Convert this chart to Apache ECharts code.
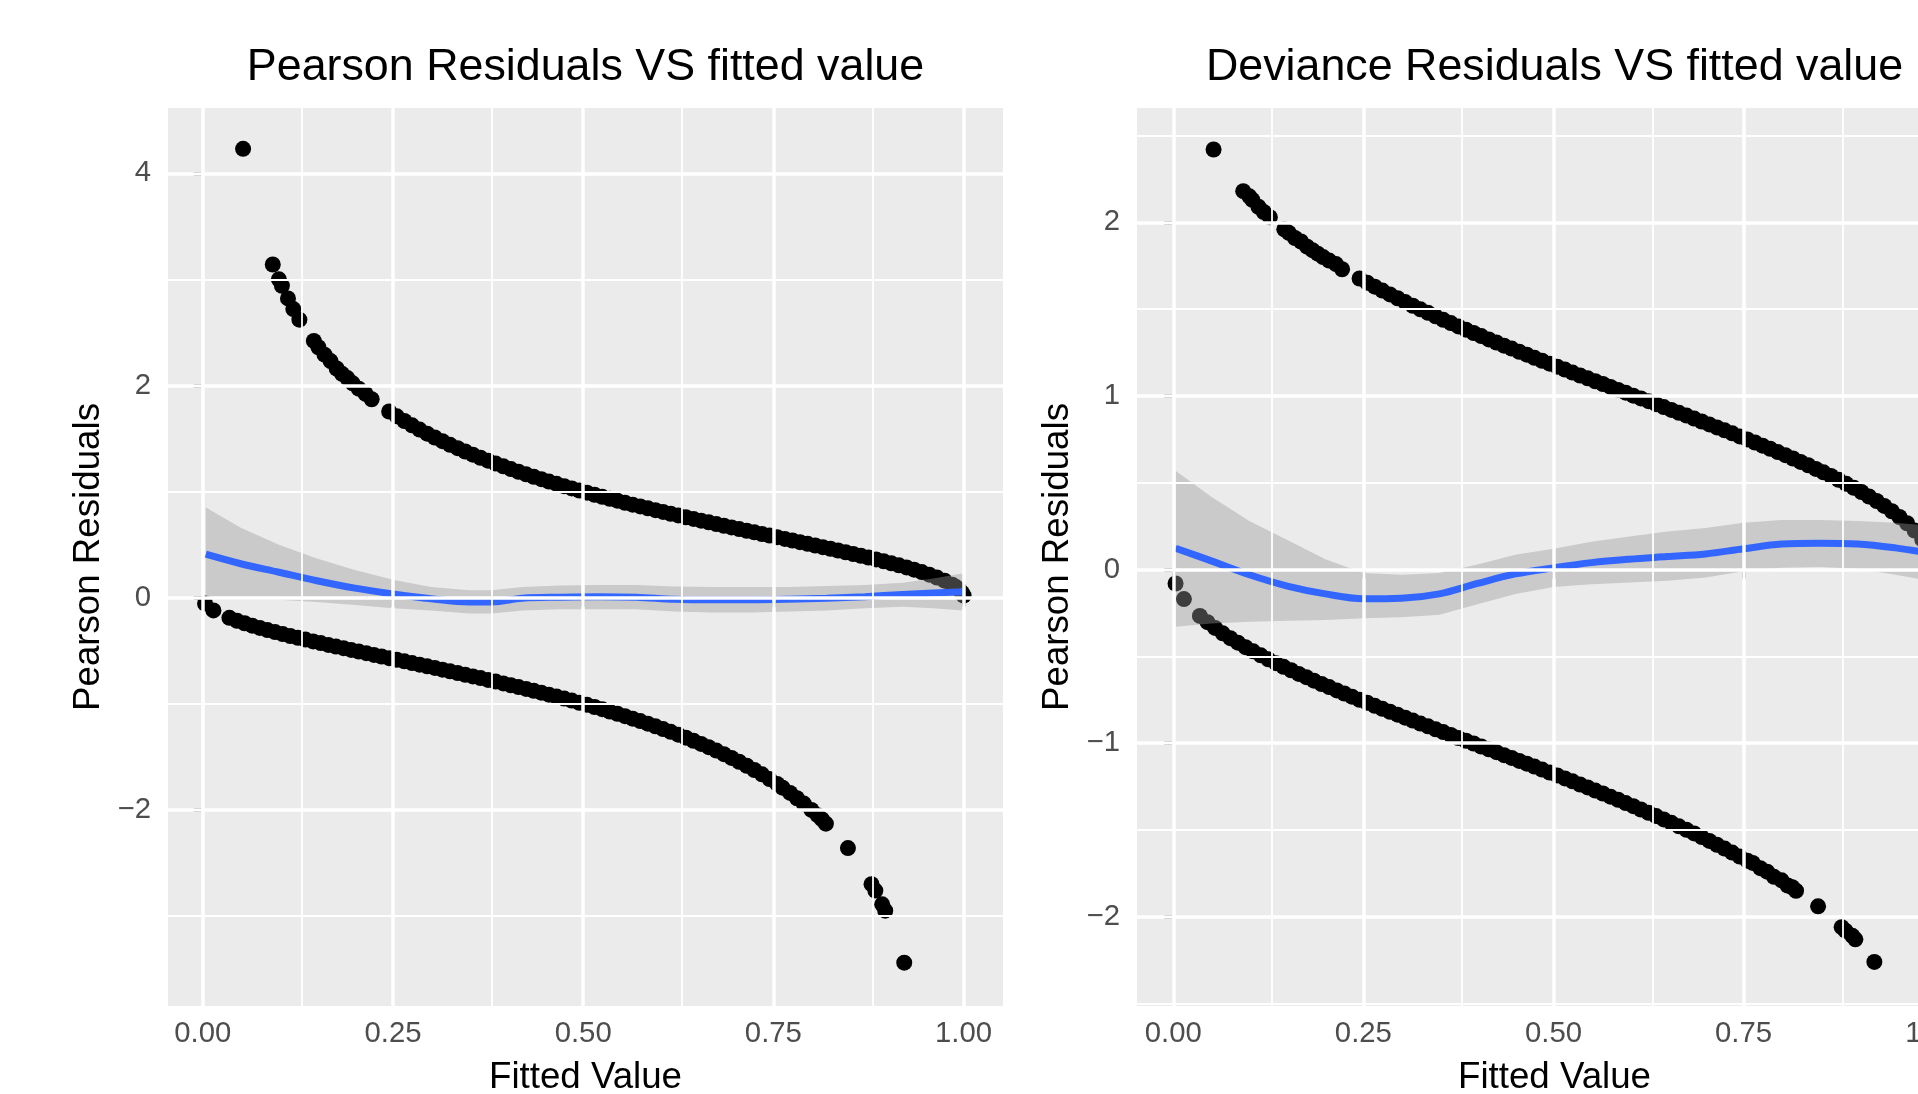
<!DOCTYPE html>
<html><head><meta charset="utf-8">
<script src="https://cdn.jsdelivr.net/npm/echarts@6/dist/echarts.min.js"></script>
<style>html,body{margin:0;padding:0;background:#fff;overflow:hidden}#c{width:1918px;height:1094px}</style>
</head><body><div id="c"></div>
<script>
// Fitted values of observations with response 1 (upper branch) and their residuals
const fitY1 = [0.053,0.092,0.100,0.104,0.112,0.119,0.127,0.146,0.152,0.160,
  0.168,0.176,0.183,0.190,0.197,0.205,0.214,0.222,
  0.245,0.255,0.265,0.275,0.285,0.295,0.305,0.315,0.325,0.335,
  0.345,0.355,0.365,0.375,0.385,0.395,0.405,0.415,0.425,0.435,
  0.445,0.455,0.465,0.475,0.485,0.495,0.505,0.515,0.525,0.535,
  0.545,0.555,0.565,0.575,0.585,0.595,0.605,0.615,0.625,0.635,
  0.645,0.655,0.665,0.675,0.685,0.695,0.705,0.715,0.725,0.735,
  0.745,0.755,0.765,0.775,0.785,0.795,0.805,0.815,0.825,0.835,
  0.845,0.855,0.865,0.875,0.885,0.895,0.905,0.915,0.925,0.935,
  0.945,0.955,0.965,0.975,0.985,0.990,0.995,0.998,1.000];
const pearsonY1 = [4.23,3.14,3.00,2.94,2.82,2.72,2.62,2.42,2.36,2.29,
  2.23,2.16,2.11,2.07,2.02,1.97,1.92,1.87,
  1.755,1.709,1.665,1.624,1.584,1.546,1.510,1.475,1.441,1.409,
  1.378,1.348,1.319,1.291,1.264,1.238,1.212,1.187,1.163,1.140,
  1.117,1.094,1.073,1.051,1.030,1.010,0.990,0.970,0.951,0.932,
  0.914,0.895,0.877,0.860,0.842,0.825,0.808,0.791,0.775,0.758,
  0.742,0.726,0.710,0.694,0.678,0.662,0.647,0.631,0.616,0.600,
  0.585,0.570,0.554,0.539,0.523,0.508,0.492,0.476,0.461,0.445,
  0.428,0.412,0.395,0.378,0.361,0.343,0.324,0.305,0.285,0.264,
  0.241,0.217,0.190,0.160,0.123,0.100,0.071,0.045,0.020];
const devianceY1 = [2.42,2.18,2.15,2.13,2.09,2.06,2.03,1.96,1.94,1.91,
  1.89,1.86,1.84,1.82,1.80,1.78,1.76,1.73,
  1.677,1.653,1.630,1.607,1.585,1.563,1.541,1.520,1.499,1.479,
  1.459,1.439,1.420,1.401,1.382,1.363,1.345,1.326,1.308,1.290,
  1.273,1.255,1.238,1.220,1.203,1.186,1.169,1.152,1.135,1.118,
  1.102,1.085,1.069,1.052,1.035,1.019,1.002,0.986,0.970,0.953,
  0.936,0.920,0.903,0.887,0.870,0.853,0.836,0.819,0.802,0.785,
  0.767,0.750,0.732,0.714,0.696,0.677,0.659,0.640,0.620,0.601,
  0.580,0.560,0.539,0.517,0.494,0.471,0.447,0.421,0.395,0.367,
  0.336,0.303,0.267,0.225,0.174,0.142,0.100,0.063,0.030];

// Fitted values of observations with response 0 (lower branch) and their residuals
const fitY0 = [0.003,0.014,
  0.035,0.045,0.055,0.065,0.075,0.085,0.095,0.105,0.115,0.125,
  0.135,0.145,0.155,0.165,0.175,0.185,0.195,0.205,0.215,0.225,
  0.235,0.245,0.255,0.265,0.275,0.285,0.295,0.305,0.315,0.325,
  0.335,0.345,0.355,0.365,0.375,0.385,0.395,0.405,0.415,0.425,
  0.435,0.445,0.455,0.465,0.475,0.485,0.495,0.505,0.515,0.525,
  0.535,0.545,0.555,0.565,0.575,0.585,0.595,0.605,0.615,0.625,
  0.635,0.645,0.655,0.665,0.675,0.685,0.695,0.705,0.715,0.725,
  0.735,0.745,0.755,
  0.762,0.772,0.781,0.790,0.800,0.808,0.814,0.819,0.848,
  0.879,0.884,0.893,0.897,0.922];
const pearsonY0 = [-0.055,-0.12,
  -0.190,-0.217,-0.241,-0.264,-0.285,-0.305,-0.324,-0.343,-0.361,-0.378,
  -0.395,-0.412,-0.428,-0.445,-0.461,-0.476,-0.492,-0.508,-0.523,-0.539,
  -0.554,-0.570,-0.585,-0.600,-0.616,-0.631,-0.647,-0.662,-0.678,-0.694,
  -0.710,-0.726,-0.742,-0.758,-0.775,-0.791,-0.808,-0.825,-0.842,-0.860,
  -0.877,-0.895,-0.914,-0.932,-0.951,-0.970,-0.990,-1.010,-1.030,-1.051,
  -1.073,-1.094,-1.117,-1.140,-1.163,-1.187,-1.212,-1.238,-1.264,-1.291,
  -1.319,-1.348,-1.378,-1.409,-1.441,-1.475,-1.510,-1.546,-1.584,-1.624,
  -1.665,-1.709,-1.755,
  -1.79,-1.84,-1.89,-1.94,-2.00,-2.05,-2.09,-2.13,-2.36,
  -2.70,-2.76,-2.89,-2.95,-3.44];
const devianceY0 = [-0.08,-0.17,
  -0.267,-0.303,-0.336,-0.367,-0.395,-0.421,-0.447,-0.471,-0.494,-0.517,
  -0.539,-0.560,-0.580,-0.601,-0.620,-0.640,-0.659,-0.677,-0.696,-0.714,
  -0.732,-0.750,-0.767,-0.785,-0.802,-0.819,-0.836,-0.853,-0.870,-0.887,
  -0.903,-0.920,-0.936,-0.953,-0.970,-0.986,-1.002,-1.019,-1.035,-1.052,
  -1.069,-1.085,-1.102,-1.118,-1.135,-1.152,-1.169,-1.186,-1.203,-1.220,
  -1.238,-1.255,-1.273,-1.290,-1.308,-1.326,-1.345,-1.363,-1.382,-1.401,
  -1.420,-1.439,-1.459,-1.479,-1.499,-1.520,-1.541,-1.563,-1.585,-1.607,
  -1.630,-1.653,-1.677,
  -1.69,-1.72,-1.74,-1.77,-1.79,-1.82,-1.83,-1.85,-1.94,
  -2.06,-2.08,-2.11,-2.13,-2.26];

// Loess smooth and its confidence band (Pearson panel)
const smoothPX     = [0.004,0.05,0.10,0.15,0.20,0.25,0.30,0.35,0.38,0.42,0.47,0.52,0.57,0.62,0.67,0.72,0.77,0.82,0.87,0.92,0.96,1.00];
const smoothPFit   = [0.41,0.32,0.24,0.16,0.09,0.035,-0.01,-0.04,-0.04,-0.005,0.005,0.01,0.005,-0.015,-0.02,-0.02,-0.015,-0.005,0.01,0.03,0.045,0.057];
const smoothPUpper = [0.85,0.66,0.50,0.37,0.26,0.17,0.10,0.07,0.07,0.10,0.115,0.12,0.12,0.105,0.10,0.10,0.10,0.11,0.12,0.14,0.18,0.23];
const smoothPLower = [-0.02,-0.02,-0.02,-0.04,-0.07,-0.10,-0.12,-0.15,-0.15,-0.12,-0.11,-0.11,-0.11,-0.13,-0.14,-0.14,-0.13,-0.12,-0.10,-0.085,-0.10,-0.12];

// Loess smooth and its confidence band (Deviance panel)
const smoothDX     = [0.003,0.05,0.10,0.15,0.20,0.25,0.30,0.35,0.40,0.45,0.50,0.55,0.60,0.65,0.70,0.75,0.80,0.85,0.90,0.95,1.00];
const smoothDFit   = [0.123,0.05,-0.03,-0.095,-0.14,-0.168,-0.165,-0.14,-0.08,-0.025,0.01,0.04,0.06,0.075,0.09,0.12,0.147,0.152,0.148,0.125,0.09];
const smoothDUpper = [0.57,0.42,0.28,0.17,0.06,-0.02,-0.03,-0.02,0.03,0.085,0.12,0.16,0.19,0.22,0.24,0.27,0.285,0.285,0.28,0.27,0.25];
const smoothDLower = [-0.33,-0.31,-0.30,-0.295,-0.29,-0.28,-0.275,-0.26,-0.20,-0.14,-0.10,-0.085,-0.075,-0.065,-0.045,-0.01,0.01,0.015,0.005,-0.03,-0.07];

// Breaks and labels
const xTicks = [0, 0.25, 0.5, 0.75, 1];
const xMinor = [0.125, 0.375, 0.625, 0.875];
const pearsonTicks = [-2, 0, 2, 4];
const pearsonMinor = [-3, -1, 1, 3];
const devianceTicks = [-2, -1, 0, 1, 2];
const devianceMinor = [-2.5, -1.5, -0.5, 0.5, 1.5, 2.5];
const titles = ['Pearson Residuals VS fitted value', 'Deviance Residuals VS fitted value'];
const xTitle = 'Fitted Value';
const yTitle = 'Pearson Residuals';

const FONT = "'Liberation Sans', Arial, Helvetica, sans-serif";
const zip = (a, b) => a.map((v, i) => [v, b[i]]);
const fmtY = v => v < 0 ? '\u2212' + Math.abs(v) : String(v);

const panels = [
  {left: 168, xr: [-0.0457, 1.0518], yr: [-3.848, 4.615], yt: pearsonTicks, ym: pearsonMinor,
   up: pearsonY1, lo: pearsonY0, sx: smoothPX, sf: smoothPFit, su: smoothPUpper, sl: smoothPLower},
  {left: 1137, xr: [-0.0477, 1.0504], yr: [-2.514, 2.659], yt: devianceTicks, ym: devianceMinor,
   up: devianceY1, lo: devianceY0, sx: smoothDX, sf: smoothDFit, su: smoothDUpper, sl: smoothDLower}
];

const grid = [], xAxis = [], yAxis = [], series = [], graphic = [];
panels.forEach((p, i) => {
  grid.push({left: p.left, top: 108, width: 835, height: 898, show: true,
    backgroundColor: '#EBEBEB', borderWidth: 0, containLabel: false, outerBoundsMode: 'none'});
  xAxis.push({type: 'value', gridIndex: i, min: p.xr[0], max: p.xr[1],
    axisLine: {show: false},
    axisTick: {show: true, customValues: xTicks, length: 9, lineStyle: {color: '#333333', width: 3.5}},
    axisLabel: {customValues: xTicks, formatter: v => v.toFixed(2), fontSize: 29.3, color: '#4D4D4D', margin: 13.5, fontFamily: FONT},
    splitLine: {show: false},
    name: xTitle, nameLocation: 'middle', nameGap: 53,
    nameTextStyle: {fontSize: 36.7, color: '#000000', fontFamily: FONT}});
  yAxis.push({type: 'value', gridIndex: i, min: p.yr[0], max: p.yr[1],
    axisLine: {show: false},
    axisTick: {show: true, customValues: p.yt, length: 9, lineStyle: {color: '#333333', width: 3.5}},
    axisLabel: {customValues: p.yt, formatter: fmtY, fontSize: 29.3, color: '#4D4D4D', margin: 17, fontFamily: FONT},
    splitLine: {show: false},
    name: yTitle, nameLocation: 'middle', nameGap: 61,
    nameTextStyle: {fontSize: 36.7, color: '#000000', fontFamily: FONT}});

  const gl = [];
  xMinor.forEach(v => gl.push({xAxis: v, lineStyle: {width: 1.8}}));
  p.ym.forEach(v => gl.push({yAxis: v, lineStyle: {width: 1.8}}));
  xTicks.forEach(v => gl.push({xAxis: v, lineStyle: {width: 3.5}}));
  p.yt.forEach(v => gl.push({yAxis: v, lineStyle: {width: 3.5}}));
  series.push({type: 'line', xAxisIndex: i, yAxisIndex: i, z: 1, silent: true,
    data: [[0, 0]], symbol: 'none', lineStyle: {opacity: 0},
    markLine: {silent: true, symbol: ['none', 'none'], animation: false,
      label: {show: false}, lineStyle: {color: '#FFFFFF', type: 'solid'}, data: gl}});

  series.push({type: 'scatter', xAxisIndex: i, yAxisIndex: i, z: 2, symbolSize: 16,
    itemStyle: {color: '#000000', opacity: 1}, data: zip(fitY1, p.up).concat(zip(fitY0, p.lo))});

  const band = p.sx.map((x, k) => [x, p.su[k], p.sl[k]]);
  series.push({type: 'custom', xAxisIndex: i, yAxisIndex: i, z: 3, silent: true, clip: true,
    data: band,
    renderItem: (params, api) => {
      if (params.dataIndex !== 0) return null;
      const pts = [];
      for (let k = 0; k < band.length; k++) pts.push(api.coord([band[k][0], band[k][1]]));
      for (let k = band.length - 1; k >= 0; k--) pts.push(api.coord([band[k][0], band[k][2]]));
      return {type: 'polygon', shape: {points: pts}, style: {fill: 'rgba(153,153,153,0.4)'}};
    }});

  series.push({type: 'line', xAxisIndex: i, yAxisIndex: i, z: 4, silent: true,
    data: zip(p.sx, p.sf), smooth: 0.35, symbol: 'none',
    lineStyle: {color: '#3366FF', width: 7}});

  graphic.push({type: 'text', x: p.left + 417.5, y: 45.5,
    style: {text: titles[i], fill: '#000000', font: '44.8px ' + FONT, align: 'center', verticalAlign: 'top'}});
});

const chart = echarts.init(document.getElementById('c'), null, {renderer: 'canvas', width: 1918, height: 1094});
chart.setOption({animation: false, backgroundColor: '#FFFFFF', grid, xAxis, yAxis, series, graphic});
</script></body></html>
